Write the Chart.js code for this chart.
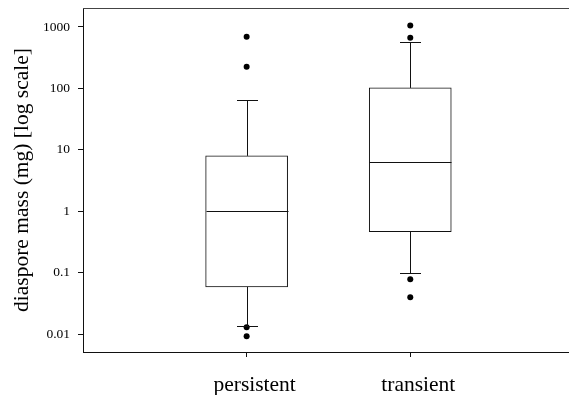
<!DOCTYPE html>
<html>
<head>
<meta charset="utf-8">
<script src="https://cdn.jsdelivr.net/npm/chart.js@4.4.1/dist/chart.umd.min.js"></script>
<style>
  html, body { margin: 0; padding: 0; background: #fff; }
  #wrap { width: 569px; height: 395px; position: relative; }
</style>
</head>
<body>
<div id="wrap"><canvas id="c"></canvas></div>
<script>
// ---- data ----
const categories = ['persistent', 'transient'];
const q1 = [0.059, 0.468];
const median = [1.0, 6.24];
const q3 = [8.0, 102];
const whiskerLow = [0.0134, 0.101];
const whiskerHigh = [65, 569];
const outliersPersistent = [0.013, 0.0093, 226, 692];
const outliersTransient = [0.0787, 0.040, 668, 1062];
const yTickValues = [0.01, 0.1, 1, 10, 100, 1000];

const FONT = "'Liberation Serif', 'Times New Roman', serif";
const INK = '#111';

const boxData = categories.map((c, i) => ({ x: i + 1, y: [q1[i], q3[i]] }));
const outlierData = [];
[outliersPersistent, outliersTransient].forEach((arr, i) => {
  arr.forEach(v => outlierData.push({ x: i + 1, y: v }));
});

const boxPlugin = {
  id: 'boxParts',
  afterDatasetsDraw(chart) {
    const { ctx, chartArea } = chart;
    const xs = chart.scales.x, ys = chart.scales.y;
    ctx.save();
    ctx.strokeStyle = INK;
    ctx.lineWidth = 1;
    const boxHalf = 41, capHalf = 10.5;
    categories.forEach((c, i) => {
      const px = Math.round(xs.getPixelForValue(i + 1)) + 0.5;
      const yMed = Math.round(ys.getPixelForValue(median[i])) + 0.5;
      const yQ1 = ys.getPixelForValue(q1[i]);
      const yQ3 = ys.getPixelForValue(q3[i]);
      const yLo = Math.round(ys.getPixelForValue(whiskerLow[i])) + 0.5;
      const yHi = Math.round(ys.getPixelForValue(whiskerHigh[i])) + 0.5;
      ctx.beginPath();
      // median
      ctx.moveTo(px - boxHalf, yMed); ctx.lineTo(px + boxHalf, yMed);
      // upper whisker
      ctx.moveTo(px, yQ3); ctx.lineTo(px, yHi);
      ctx.moveTo(px - capHalf, yHi); ctx.lineTo(px + capHalf, yHi);
      // lower whisker
      ctx.moveTo(px, yQ1); ctx.lineTo(px, yLo);
      ctx.moveTo(px - capHalf, yLo); ctx.lineTo(px + capHalf, yLo);
      ctx.stroke();
    });
    // top frame line
    ctx.strokeStyle = '#444';
    ctx.beginPath();
    ctx.moveTo(chartArea.left, chartArea.top + 0.5);
    ctx.lineTo(chartArea.right, chartArea.top + 0.5);
    ctx.stroke();
    ctx.restore();
  }
};

new Chart(document.getElementById('c'), {
  type: 'bar',
  data: {
    datasets: [
      {
        type: 'bar',
        data: boxData,
        backgroundColor: '#fff',
        borderColor: INK,
        borderWidth: 1,
        borderSkipped: false,
        barThickness: 82,
        order: 2
      },
      {
        type: 'scatter',
        data: outlierData,
        backgroundColor: '#000',
        borderColor: '#000',
        pointRadius: 3,
        borderWidth: 0,
        order: 1
      }
    ]
  },
  options: {
    responsive: true,
    maintainAspectRatio: false,
    animation: false,
    layout: { autoPadding: false, padding: { top: 8, right: 0, left: 0, bottom: 0 } },
    plugins: { legend: { display: false }, tooltip: { enabled: false } },
    scales: {
      x: {
        type: 'linear',
        offset: false,
        min: 0,
        max: 2.97,
        afterBuildTicks(scale) { scale.ticks = [{ value: 1 }, { value: 2 }]; },
        afterFit(scale) { scale.height = 43; scale.paddingLeft = 0; scale.paddingRight = 0; },
        ticks: {
          callback: (v) => categories[Math.round(v) - 1] || '',
          color: '#000',
          font: { family: FONT, size: 21.5 },
          padding: 15,
          labelOffset: 8,
          maxRotation: 0
        },
        grid: { offset: false, drawOnChartArea: false, drawTicks: true, tickLength: 5, color: INK },
        border: { color: INK, width: 1 }
      },
      y: {
        type: 'logarithmic',
        min: 0.00515,
        max: 2037,
        afterBuildTicks(scale) { scale.ticks = yTickValues.map(v => ({ value: v })); },
        afterFit(scale) { scale.width = 83; scale.paddingTop = 0; scale.paddingBottom = 0; },
        ticks: {
          callback: (v) => String(v),
          color: '#000',
          font: { family: FONT, size: 13.5 },
          padding: 8
        },
        grid: { drawOnChartArea: false, drawTicks: true, tickLength: 5, color: INK },
        border: { color: INK, width: 1 },
        title: {
          display: true,
          text: 'diaspore mass (mg) [log scale]',
          color: '#000',
          font: { family: FONT, size: 21.5 },
          padding: { top: 9, bottom: 0 }
        }
      }
    }
  },
  plugins: [boxPlugin]
});
</script>
</body>
</html>
